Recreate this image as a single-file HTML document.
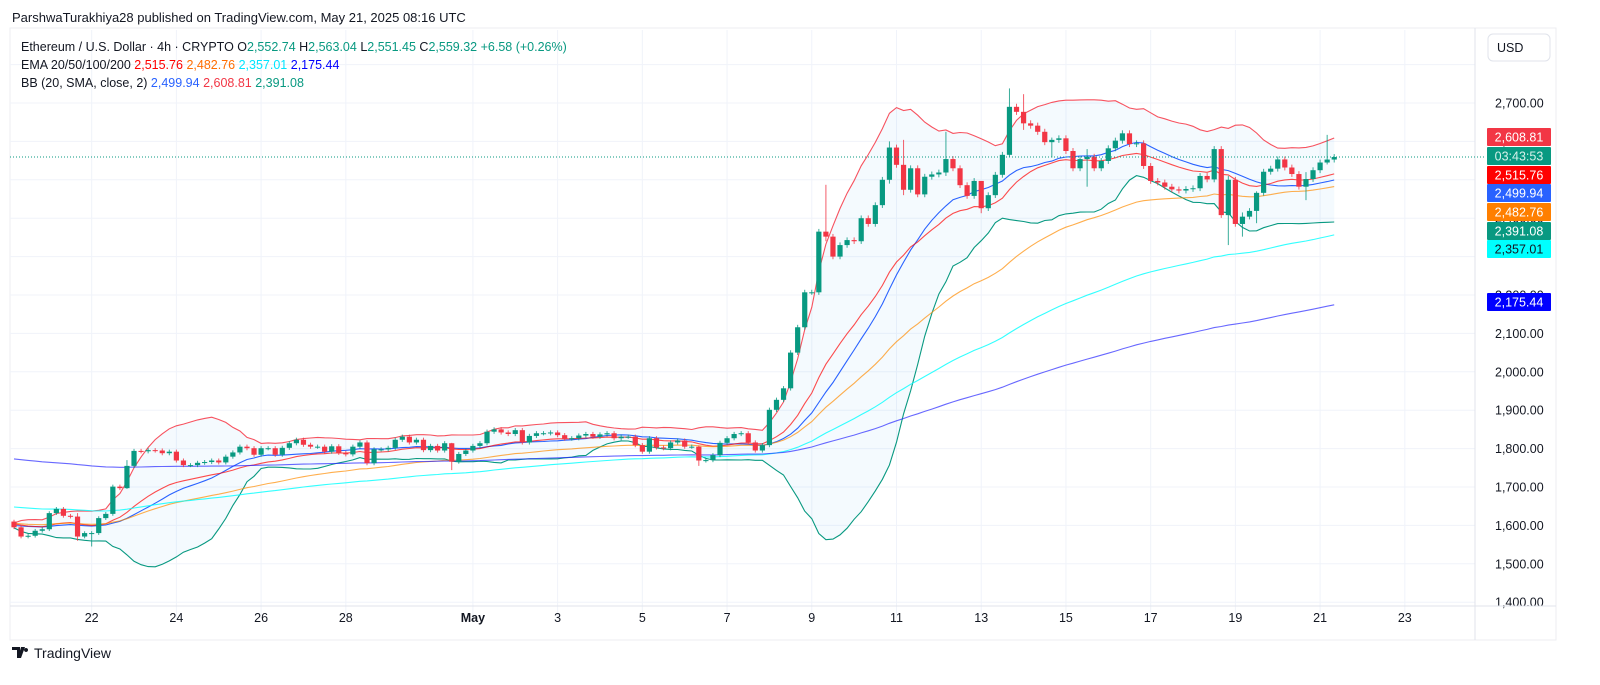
<!DOCTYPE html>
<html><head><meta charset="utf-8"><style>
html,body{margin:0;padding:0;background:#fff;width:1600px;height:685px;overflow:hidden}
svg{display:block;font-family:"Liberation Sans",sans-serif}
</style></head><body>
<svg id="chart" width="1600" height="685" viewBox="0 0 1600 685" xmlns="http://www.w3.org/2000/svg">
<rect x="0" y="0" width="1600" height="685" fill="#ffffff"/>
<rect x="10" y="28" width="1546" height="612" fill="none" stroke="#eceef2" stroke-width="1"/>
<g id="grid"></g>
<g id="bands"></g>
<g id="lines"></g>
<g id="candles"></g>
<g id="axis"></g>
<text x="12" y="22" font-size="13" fill="#131722">ParshwaTurakhiya28 published on TradingView.com, May 21, 2025 08:16 UTC</text>
<g font-size="12.5">
<text x="21" y="51" fill="#131722">Ethereum / U.S. Dollar · 4h · CRYPTO  O<tspan fill="#089981">2,552.74</tspan>  H<tspan fill="#089981">2,563.04</tspan>  L<tspan fill="#089981">2,551.45</tspan>  C<tspan fill="#089981">2,559.32</tspan> <tspan fill="#089981">+6.58 (+0.26%)</tspan></text>
<text x="21" y="69" fill="#131722">EMA 20/50/100/200 <tspan fill="#ff0000">2,515.76</tspan> <tspan fill="#ff6d00">2,482.76</tspan> <tspan fill="#00e5ff">2,357.01</tspan> <tspan fill="#0000ff">2,175.44</tspan></text>
<text x="21" y="87" fill="#131722">BB (20, SMA, close, 2) <tspan fill="#2962ff">2,499.94</tspan> <tspan fill="#f23645">2,608.81</tspan> <tspan fill="#089981">2,391.08</tspan></text>
</g>
<g>
<rect x="1488" y="34" width="62" height="27" rx="5" fill="#fff" stroke="#e0e3eb"/>
<text x="1497" y="52" font-size="12.5" fill="#131722">USD</text>
</g>
<g>
<path d="M12 647h8v11h-3v-8h-5z M21 647h4l-4 11h-3z M26 648a2 2 0 1 0 0.1 0z" fill="#131722"/>
<text x="34" y="658" font-size="14" fill="#131722">TradingView</text>
</g>
</svg>
<script>
const closes=[1595,1571,1573,1586,1590,1632,1643,1625,1623,1571,1580,1580,1619,1630,1701,1697,1755,1794,1793,1796,1795,1788,1792,1769,1757,1757,1763,1765,1769,1764,1779,1790,1805,1801,1784,1801,1801,1784,1802,1814,1823,1810,1805,1805,1792,1806,1789,1785,1805,1816,1762,1798,1798,1802,1823,1831,1816,1823,1796,1807,1795,1814,1766,1786,1795,1807,1814,1844,1850,1842,1838,1848,1816,1833,1840,1840,1842,1835,1826,1827,1834,1838,1831,1837,1840,1827,1831,1831,1809,1792,1827,1803,1801,1816,1821,1805,1805,1769,1770,1783,1815,1827,1838,1840,1816,1795,1809,1901,1927,1957,2050,2116,2207,2207,2365,2352,2300,2330,2343,2340,2400,2385,2434,2500,2584,2539,2474,2530,2462,2508,2514,2519,2554,2530,2486,2458,2497,2426,2460,2513,2565,2690,2677,2647,2641,2625,2598,2604,2608,2575,2530,2554,2560,2530,2549,2582,2602,2621,2593,2595,2536,2497,2493,2482,2475,2472,2476,2478,2510,2501,2580,2408,2500,2385,2404,2419,2466,2521,2529,2553,2532,2515,2482,2502,2525,2545,2552.74,2559.32];
const firstOpen=1610;
const priorCloses=[1598,1602,1596,1600,1605,1599,1603,1597,1601,1606,1600,1594,1598,1604,1600,1597,1602,1599,1601];
const bigWicks={9:[1632,1560],11:[1585,1545],16:[1770,1695],62:[1815,1744],97:[1808,1755],115:[2487,2340],124:[2600,2490],126:[2604,2460],132:[2625,2510],137:[2470,2413],141:[2738,2560],143:[2723,2630],147:[2610,2558],152:[2580,2482],172:[2510,2330],174:[2415,2352],176:[2470,2387],183:[2520,2447],186:[2617,2540]};
const emaSeeds=[1605,1606,1649,1775];
const emaPeriods=[20,50,100,200];
const emaColors=['rgba(255,0,0,0.7)','rgba(255,140,0,0.7)','rgba(0,255,255,0.8)','rgba(40,40,255,0.7)'];
const yTicks=[1400,1500,1600,1700,1800,1900,2000,2100,2200,2300,2400,2500,2600,2700,2800];
const dayLabels=['22','24','26','28','May','3','5','7','9','11','13','15','17','19','21','23'];
const dayIndex=[11,23,35,47,65,77,89,101,113,125,137,149,161,173,185,197];
const priceTags=[['2,608.81','#f23645','#fff',137],['03:43:53','#089981','#d6f0ea',156],['2,515.76','#ff0000','#fff',175],['2,499.94','#2962ff','#fff',193],['2,482.76','#ff7f00','#fff',212],['2,391.08','#089981','#fff',231],['2,357.01','#00ffff','#131722',249],['2,175.44','#0000ff','#fff',302]];

const NS='http://www.w3.org/2000/svg';
const X=i=>14+7.06*i;
const Y=p=>103+(2700-p)*0.384;
function mk(tag,attrs,parent){const e=document.createElementNS(NS,tag);for(const k in attrs)e.setAttribute(k,attrs[k]);parent.appendChild(e);return e;}
const grid=document.getElementById('grid'),axis=document.getElementById('axis'),lines=document.getElementById('lines'),bands=document.getElementById('bands'),cg=document.getElementById('candles');
const PR=1475, PB=606;
yTicks.forEach(t=>{const y=Y(t);if(y<30||y>PB)return;
 const l=mk('line',{x1:10,x2:PR,y1:y,y2:y,stroke:'#f0f3fa'},grid);
 
 if(t===2300||t===2800)return;
 const tx=mk('text',{x:1495,y:y+4.5,'font-size':12.5,fill:'#131722'},axis);
 
 tx.textContent=t.toLocaleString('en-US',{minimumFractionDigits:2});});
dayLabels.forEach((d,k)=>{const x=X(dayIndex[k]);
 const l=mk('line',{x1:x,x2:x,y1:30,y2:PB+12,stroke:'#f0f3fa'},grid);
 
 const tx=mk('text',{x:x,y:622,'font-size':12.5,fill:'#131722','text-anchor':'middle','font-weight':d==='May'?'bold':'normal'},axis);
 
 tx.textContent=d;});
const sep=mk('line',{x1:10,x2:1556,y1:PB,y2:PB,stroke:'#e0e3eb'},axis);

const sep2=mk('line',{x1:PR,x2:PR,y1:28,y2:640,stroke:'#e0e3eb'},axis);


const all=priorCloses.concat(closes);const up=[],mid=[],lo=[];
for(let i=0;i<closes.length;i++){const w=all.slice(i,i+20);const m=w.reduce((a,b)=>a+b,0)/20;const sd=Math.sqrt(w.reduce((a,b)=>a+(b-m)*(b-m),0)/20);mid.push(m);up.push(m+2*sd);lo.push(m-2*sd);}
const pts=a=>a.map((v,i)=>X(i).toFixed(1)+','+Y(v).toFixed(1));
const fill=mk('polygon',{points:pts(up).concat(pts(lo).reverse()).join(' '),fill:'rgba(33,150,243,0.05)'},bands);

[[up,'#f7525f','bb-upper'],[mid,'#2962ff','bb-basis'],[lo,'#089981','bb-lower']].forEach(([a,c,n])=>{const p=mk('polyline',{points:pts(a).join(' '),fill:'none',stroke:c,'stroke-width':1.1},bands);
 });
emaPeriods.forEach((n,k)=>{const a=2/(n+1);let e=emaSeeds[k];const v=[];closes.forEach(c=>{e=e+a*(c-e);v.push(e);});
 const p=mk('polyline',{points:pts(v).join(' '),fill:'none',stroke:emaColors[k],'stroke-width':1.1},lines);
 });
closes.forEach((c,i)=>{const o=i===0?firstOpen:closes[i-1];const up=c>=o;const col=up?'#089981':'#f23645';
 const hi=bigWicks[i]?bigWicks[i][0]:Math.max(o,c)*1.003;const lw=bigWicks[i]?bigWicks[i][1]:Math.min(o,c)*0.997;
 const g=mk('g',{},cg);
 
 
 const x=X(i);
 mk('line',{x1:x,x2:x,y1:Y(hi),y2:Y(lw),stroke:col,'stroke-width':1,opacity:0.8},g);
 const t=Y(Math.max(o,c)),b=Y(Math.min(o,c));
 mk('rect',{x:x-2.6,y:t,width:5.2,height:Math.max(1,b-t),fill:col},g);});
const pl=mk('line',{x1:10,x2:1485,y1:Y(closes[closes.length-1]),y2:Y(closes[closes.length-1]),stroke:'#089981','stroke-dasharray':'1,2','stroke-width':1},axis);


priceTags.forEach(([t,bg,fg,y])=>{const g=mk('g',{},axis);
 
 
 mk('rect',{x:1487,y:y-9,width:64,height:18,fill:bg,rx:1},g);
 const tx=mk('text',{x:1519,y:y+4.5,'font-size':12.5,fill:fg,'text-anchor':'middle'},g);tx.textContent=t;});
</script>
</body></html>
